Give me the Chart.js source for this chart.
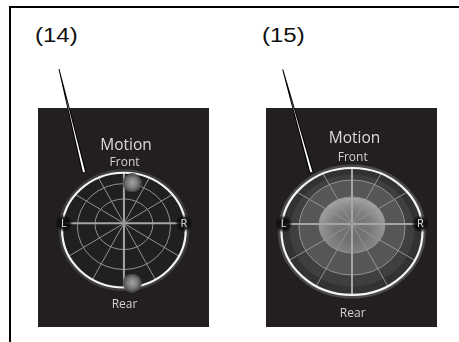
<!DOCTYPE html>
<html>
<head>
<meta charset="utf-8">
<script src="https://cdn.jsdelivr.net/npm/chart.js@4.4.1/dist/chart.umd.min.js"></script>
<style>
  html, body { margin: 0; padding: 0; background: #fff; }
  body { width: 459px; height: 342px; position: relative; overflow: hidden; }
  .frame-top { position: absolute; left: 9px; top: 6px; width: 450px; height: 2px; background: #000; }
  .frame-left { position: absolute; left: 9px; top: 6px; width: 2px; height: 336px; background: #000; }
  .tag { position: absolute; top: 25px; font: 20px/20px "Liberation Sans", Arial, sans-serif; color: #111;
         transform: scaleX(1.2); transform-origin: 0 0; white-space: nowrap; }
  .panel { position: absolute; top: 108px; width: 171px; height: 219px; background: #231f20; }
  .panel canvas { display: block; }
  #leaders { position: absolute; left: 0; top: 0; }
</style>
</head>
<body>
<div class="frame-top"></div>
<div class="frame-left"></div>
<div class="tag" id="tag0" style="left:35px"></div>
<div class="tag" id="tag1" style="left:262px"></div>
<div class="panel" style="left:38px"><canvas id="panner0" width="171" height="219"></canvas></div>
<div class="panel" style="left:266px"><canvas id="panner1" width="171" height="219"></canvas></div>
<svg id="leaders" width="459" height="342"></svg>
<script>
// panel captions
const panelTags = ["(14)", "(15)"];
const titleText = "Motion";
const directionLabels = ["Front", "R", "Rear", "L"];

// panner grid, in percent of the horizontal panner range
const ringRadiusX = [46.8, 75.2, 100];
const ringRadiusY = [39.7, 67.4, 90];
const ringShiftY = [-1.4, -5, -10.6];
const spokeAngles = [0, 30, 60, 90, 120, 150, 180, 210, 240, 270, 300, 330];

// sound source positions (panel 14 only)
const ballX = [13.2, 13.2];
const ballY = [63.5, -93.6];

panelTags.forEach((t, i) => { document.getElementById("tag" + i).textContent = t; });

function makeSphere(r) {
  const c = document.createElement("canvas");
  c.width = c.height = r * 2;
  const g = c.getContext("2d");
  const grad = g.createRadialGradient(r * 1.05, r * 0.95, 0, r, r, r);
  grad.addColorStop(0, "#a5a5a5");
  grad.addColorStop(0.55, "#7c7c7c");
  grad.addColorStop(1, "#444444");
  g.fillStyle = grad;
  g.beginPath();
  g.arc(r, r, r, 0, Math.PI * 2);
  g.fill();
  return c;
}

function ellipsePath(ctx, e) {
  ctx.beginPath();
  ctx.ellipse(e.x, e.y, e.rx, e.ry, 0, 0, Math.PI * 2);
}

const pannerPlugin = {
  id: "panner",
  beforeDatasetsDraw(chart, args, opts) {
    const ctx = chart.ctx, xs = chart.scales.x, ys = chart.scales.y;
    const cx = xs.getPixelForValue(0), cy = ys.getPixelForValue(0);
    const ux = xs.getPixelForValue(1) - cx;
    const uy = cy - ys.getPixelForValue(1);
    const ring = (i, f) => ({ x: cx, y: ys.getPixelForValue(ringShiftY[i] * f),
                              rx: ringRadiusX[i] * ux * f, ry: ringRadiusY[i] * uy * f });
    const outer = ring(2, 1);

    ctx.save();
    // soft bezel round the outer ring
    ellipsePath(ctx, outer);
    ctx.strokeStyle = opts.filled ? "#4a4a4a" : "#3d3d3d";
    ctx.lineWidth = 7;
    ctx.stroke();

    if (opts.filled) {
      ellipsePath(ctx, outer);
      ctx.fillStyle = "#323232";
      ctx.fill();
      ellipsePath(ctx, ring(2, 0.88));
      ctx.fillStyle = "#3f3f3f";
      ctx.fill();
      ellipsePath(ctx, ring(1, 1));
      ctx.fillStyle = "#565656";
      ctx.fill();
      const inner = ring(0, 1);
      const rg = ctx.createRadialGradient(0, 0, 0, 0, 0, inner.rx);
      rg.addColorStop(0, "#6c6c6c");
      rg.addColorStop(0.55, "#7a7a7a");
      rg.addColorStop(0.9, "#969696");
      rg.addColorStop(1, "#9e9e9e");
      ctx.save();
      ctx.translate(inner.x, inner.y);
      ctx.scale(1, inner.ry / inner.rx);
      ctx.beginPath();
      ctx.arc(0, 0, inner.rx, 0, Math.PI * 2);
      ctx.fillStyle = rg;
      ctx.fill();
      ctx.restore();
      const lg = ctx.createLinearGradient(0, inner.y - inner.ry, 0, inner.y + inner.ry);
      lg.addColorStop(0, "rgba(255,255,255,0.06)");
      lg.addColorStop(1, "rgba(0,0,0,0.2)");
      ellipsePath(ctx, inner);
      ctx.fillStyle = lg;
      ctx.fill();
    } else {
      ellipsePath(ctx, outer);
      ctx.fillStyle = "#221f20";
      ctx.fill();
    }

    // inner rings
    ctx.strokeStyle = "#929292";
    ctx.lineWidth = 1;
    [0, 1].forEach(i => { ellipsePath(ctx, ring(i, 1)); ctx.stroke(); });

    // spokes up to the outer ring
    const a = ringRadiusX[2], b = ringRadiusY[2], s = ringShiftY[2];
    spokeAngles.forEach(deg => {
      const th = deg * Math.PI / 180;
      const dx = Math.sin(th), dy = Math.cos(th);
      const A = dx * dx / (a * a) + dy * dy / (b * b);
      const B = dy * s / (b * b);
      const C = s * s / (b * b) - 1;
      const t = (B + Math.sqrt(B * B - A * C)) / A;
      const main = deg % 90 === 0;
      ctx.beginPath();
      ctx.moveTo(cx, cy);
      ctx.lineTo(xs.getPixelForValue(dx * t), ys.getPixelForValue(dy * t));
      ctx.strokeStyle = main ? "#a6a6a6" : "#929292";
      ctx.lineWidth = main ? 2 : 1;
      ctx.stroke();
    });

    // outer white ring
    ellipsePath(ctx, outer);
    ctx.strokeStyle = "#f4f4f4";
    ctx.lineWidth = 2.2;
    ctx.stroke();
    ctx.restore();
  },
  afterDatasetsDraw(chart) {
    const ctx = chart.ctx, xs = chart.scales.x, ys = chart.scales.y;
    const X = v => xs.getPixelForValue(v), Y = v => ys.getPixelForValue(v);
    const top = ringShiftY[2] + ringRadiusY[2];
    const bottom = ringShiftY[2] - ringRadiusY[2];
    const side = ringRadiusX[2] - 3;
    ctx.save();
    ctx.textAlign = "center";
    ctx.textBaseline = "alphabetic";

    ctx.fillStyle = "#dcdcdc";
    ctx.font = '15.5px "Open Sans", sans-serif';
    ctx.fillText(titleText, X(3.5), Y(114.5));

    ctx.fillStyle = "#d2d2d2";
    ctx.font = '12px "Open Sans", sans-serif';
    ctx.fillText(directionLabels[0], X(1), Y(top + 10.6));
    ctx.fillText(directionLabels[2], X(1), Y(bottom - 31.5));

    // L / R markers sit on the ring with a dark halo
    [[directionLabels[3], -side], [directionLabels[1], side]].forEach(([txt, v]) => {
      const px = X(v), py = Y(0);
      const hg = ctx.createRadialGradient(px, py, 0, px, py, 9);
      hg.addColorStop(0, "rgba(10,10,10,0.95)");
      hg.addColorStop(0.6, "rgba(10,10,10,0.85)");
      hg.addColorStop(1, "rgba(10,10,10,0)");
      ctx.fillStyle = hg;
      ctx.beginPath();
      ctx.arc(px, py, 9, 0, Math.PI * 2);
      ctx.fill();
      ctx.fillStyle = "#e2e2e2";
      ctx.font = '11px "Open Sans", sans-serif';
      ctx.textBaseline = "middle";
      ctx.fillText(txt, px, py);
      ctx.textBaseline = "alphabetic";
    });
    ctx.restore();
  }
};

function makePanner(id, points, filled) {
  new Chart(document.getElementById(id), {
    type: "scatter",
    data: {
      datasets: [{
        data: points,
        pointStyle: makeSphere(9.5),
        pointRadius: 9.5,
        pointHoverRadius: 9.5
      }]
    },
    options: {
      responsive: false,
      animation: false,
      events: [],
      layout: { padding: 0 },
      plugins: {
        legend: { display: false },
        tooltip: { enabled: false },
        panner: { filled: filled }
      },
      scales: {
        x: { type: "linear", min: -122, max: 120.6, display: false },
        y: { type: "linear", min: -146.1, max: 164.5, display: false }
      }
    },
    plugins: [pannerPlugin]
  });
}

makePanner("panner0", ballX.map((x, i) => ({ x: x, y: ballY[i] })), false);
makePanner("panner1", [], true);

// leader lines from the captions to the outer ring
const svg = document.getElementById("leaders");
function leader(x1, y1, x2, y2) {
  const L = Math.hypot(x2 - x1, y2 - y1);
  const nx = (y2 - y1) / L, ny = -(x2 - x1) / L;
  const poly = (w1, w2, t0, col) => {
    const sx = x1 + (x2 - x1) * t0, sy = y1 + (y2 - y1) * t0;
    const p = document.createElementNS("http://www.w3.org/2000/svg", "polygon");
    p.setAttribute("points", [
      [sx + nx * w1, sy + ny * w1], [x2 + nx * w2, y2 + ny * w2],
      [x2 - nx * w2, y2 - ny * w2], [sx - nx * w1, sy - ny * w1]
    ].map(q => q.join(",")).join(" "));
    p.setAttribute("fill", col);
    svg.appendChild(p);
  };
  poly(0.5, 2.3, 0, "#000");
  poly(0, 1.1, 0.25, "#fff");
}
leader(59, 69, 84, 172);
leader(282.7, 69.3, 311.3, 172);
</script>
</body>
</html>
